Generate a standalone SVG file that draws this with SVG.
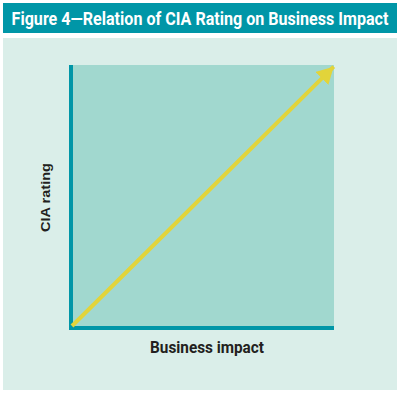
<svg xmlns="http://www.w3.org/2000/svg" width="400" height="393" viewBox="0 0 400 393">
<defs>
<style>
.t{font-family:Roboto,"Liberation Sans",sans-serif;font-weight:700;}
.a{font-family:"Liberation Sans",Arial,sans-serif;font-weight:700;}
</style>
<marker id="ah" viewBox="0 0 10 11" refX="10" refY="5.5" markerWidth="4.2" markerHeight="4.6" orient="auto" markerUnits="strokeWidth">
<path d="M0,0 L10,5.5 L0,11 z" fill="#E2D43A"/>
</marker>
</defs>
<rect x="0" y="0" width="400" height="393" fill="#ffffff"/>
<g id="header">
<rect x="3" y="3" width="394" height="30" fill="#0096A7"/>
<text class="t" transform="translate(200,25) scale(0.8,1)" x="0" y="0" font-size="19" fill="#ffffff" text-anchor="middle" textLength="471" lengthAdjust="spacingAndGlyphs">Figure 4—Relation of CIA Rating on Business Impact</text>
</g>
<g id="panel">
<rect x="3" y="38" width="394" height="352" fill="#DAEEE9"/>
<rect x="69" y="65" width="265" height="265" fill="#A1D8CF"/>
</g>
<g id="axes">
<rect x="69" y="65" width="4" height="265" fill="#0096A7"/>
<rect x="69" y="326" width="265" height="4" fill="#0096A7"/>
</g>
<g id="connectors">
<line x1="72" y1="326" x2="333.7" y2="66.7" stroke="#E2D43A" stroke-width="4" marker-end="url(#ah)"/>
</g>
<g id="xlabel">
<text class="t" transform="translate(207,353) scale(0.85,1)" x="0" y="0" font-size="16" fill="#231F20" text-anchor="middle" textLength="134" lengthAdjust="spacingAndGlyphs">Business impact</text>
</g>
<g id="ylabel">
<text class="a" transform="translate(49.5,197.5) rotate(-90)" x="0" y="0" font-size="13" fill="#231F20" text-anchor="middle" textLength="69" lengthAdjust="spacingAndGlyphs">CIA rating</text>
</g>
</svg>
